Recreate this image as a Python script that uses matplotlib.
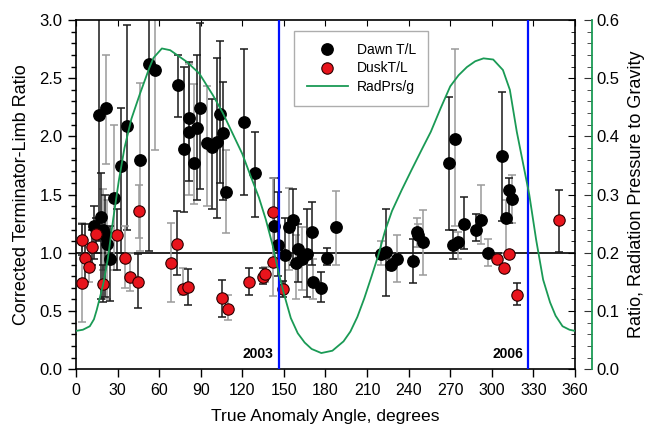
import matplotlib
matplotlib.use("Agg")
import matplotlib.pyplot as plt
import numpy as np
from matplotlib.ticker import MultipleLocator
from matplotlib.lines import Line2D

plt.rcParams["font.family"] = ["Liberation Sans", "DejaVu Sans"]

# dawn terminator/limb ratios: angle, value, lower end, upper end of error bar
dawn_angle = [12.8, 16.8, 17.8, 19.7, 20.9, 21.6, 22.1, 24.5, 27.8, 32.7,
              36.6, 46.2, 52.9, 57.2, 73.8, 78.3, 81.3, 81.8, 85.1, 87.1,
              89.5, 94.3, 97.9, 101.9, 103.9, 105.8, 108.0, 121.4, 128.9,
              142.9, 146.0, 150.8, 153.9, 156.8, 158.7, 160.4, 162.8, 166.9,
              170.5, 170.7, 176.5, 180.9, 187.4, 219.8, 223.7, 227.1, 231.4,
              242.9, 245.8, 247.0, 250.1, 269.4, 273.5, 272.2, 275.8, 280.2,
              288.4, 292.2, 297.5, 307.6, 310.2, 312.4, 314.8]
dawn_ratio = [1.23, 2.18, 1.31, 1.20, 1.15, 2.24, 1.08, 0.95, 1.47, 1.75,
              2.09, 1.80, 2.62, 2.57, 2.44, 1.89, 2.04, 2.16, 1.77, 2.07,
              2.24, 1.94, 1.91, 1.95, 2.19, 2.03, 1.52, 2.12, 1.69,
              1.23, 1.07, 0.98, 1.22, 1.28, 0.91, 1.03, 0.95, 0.99,
              1.18, 0.75, 0.70, 0.96, 1.22, 0.99, 1.01, 0.90, 0.95,
              0.93, 1.18, 1.15, 1.09, 1.77, 1.98, 1.07, 1.09, 1.25,
              1.20, 1.28, 1.00, 1.83, 1.30, 1.54, 1.46]
dawn_lo = [0.95, 1.10, 0.60, 0.85, 0.62, 1.76, 0.60, 0.59, 0.85, 1.00,
           1.20, 1.02, 1.02, 1.88, 2.17, 1.35, 1.50, 1.62, 1.42, 1.45,
           1.55, 1.40, 1.38, 1.30, 1.60, 1.45, 1.17, 1.50, 1.31,
           0.95, 0.80, 0.70, 0.85, 0.90, 0.60, 0.75, 0.68, 0.62,
           0.90, 0.60, 0.58, 0.90, 0.90, 0.90, 0.63, 0.85, 0.75,
           0.74, 1.05, 1.05, 0.81, 1.20, 1.23, 0.95, 0.95, 1.03,
           1.10, 1.08, 0.89, 1.27, 1.00, 1.26, 1.26]
dawn_hi = [1.40, 3.50, 1.69, 1.55, 1.50, 2.70, 1.45, 1.23, 2.10, 2.24,
           2.96, 2.46, 3.50, 3.50, 2.70, 2.60, 2.62, 2.64, 2.45, 2.70,
           2.97, 2.43, 2.32, 2.67, 2.82, 2.47, 1.88, 2.75, 2.04,
           1.64, 1.52, 1.30, 1.56, 1.55, 1.15, 1.25, 1.22, 1.38,
           1.44, 0.95, 0.84, 1.04, 1.53, 1.10, 1.38, 0.95, 1.15,
           1.12, 1.30, 1.25, 1.37, 2.34, 2.75, 1.20, 1.18, 1.48,
           1.33, 1.58, 1.12, 2.38, 1.45, 1.64, 1.67]

# dusk terminator/limb ratios
dusk_angle = [4.1, 4.1, 6.5, 9.6, 11.8, 14.4, 19.7, 29.4, 35.4, 39.0,
              44.5, 45.7, 68.3, 72.6, 77.0, 81.0, 105.6, 109.9, 125.0,
              135.1, 136.4, 141.9, 142.4, 149.6, 303.5, 308.8, 312.7,
              318.5, 348.7]
dusk_ratio = [1.11, 0.74, 0.96, 0.88, 1.05, 1.16, 0.73, 1.15, 0.96, 0.79,
              0.75, 1.36, 0.91, 1.08, 0.69, 0.71, 0.61, 0.52, 0.75,
              0.79, 0.82, 0.92, 1.35, 0.69, 0.95, 0.87, 0.99,
              0.64, 1.28]
dusk_lo = [0.98, 0.41, 0.75, 0.75, 0.90, 1.00, 0.58, 0.85, 0.70, 0.67,
           0.53, 1.13, 0.58, 0.81, 0.64, 0.55, 0.45, 0.42, 0.64,
           0.73, 0.75, 0.63, 1.20, 0.62, 0.95, 0.87, 0.99,
           0.55, 1.01]
dusk_hi = [1.25, 1.26, 1.25, 1.05, 1.20, 1.30, 0.90, 1.38, 1.23, 1.00,
           0.99, 1.58, 1.26, 1.36, 0.87, 0.86, 0.77, 0.64, 0.87,
           0.87, 0.88, 1.20, 1.64, 0.76, 0.95, 0.87, 0.99,
           0.74, 1.54]

# radiation pressure / gravity along the orbit
rp_angle = [0, 5, 10, 13, 15, 18, 20, 23, 27, 31, 35, 40, 46, 53, 56, 62,
            68, 74, 80, 89, 99, 106, 114, 120, 126, 132, 137, 142, 146, 150,
            155, 160, 165, 170, 177, 185, 193, 198, 203, 208, 213, 218, 223,
            228, 235, 242, 250, 256, 263, 270, 276, 282, 288, 294, 301, 308,
            313, 318, 323, 327, 332, 337, 342, 346, 351, 356, 360]
rp_value = [0.066, 0.068, 0.074, 0.086, 0.102, 0.130, 0.150, 0.190, 0.260,
            0.325, 0.380, 0.430, 0.472, 0.518, 0.535, 0.551, 0.548, 0.538,
            0.528, 0.508, 0.470, 0.440, 0.400, 0.370, 0.332, 0.295, 0.257,
            0.212, 0.168, 0.130, 0.088, 0.062, 0.046, 0.035, 0.028, 0.032,
            0.048, 0.065, 0.090, 0.122, 0.158, 0.195, 0.238, 0.272, 0.308,
            0.342, 0.380, 0.408, 0.448, 0.486, 0.505, 0.519, 0.529, 0.534,
            0.532, 0.514, 0.480, 0.408, 0.348, 0.300, 0.222, 0.154, 0.115,
            0.092, 0.074, 0.068, 0.066]

# perihelion passages marked on the plot
years = ["2003", "2006"]
year_angle = [146.2, 326.3]

# which error bars are drawn light grey
dawn_faint = [0, 0, 0, 1, 0, 1, 1, 0, 1, 0, 0, 1, 0, 1, 0, 0, 1, 0, 1, 0,
              0, 1, 0, 0, 0, 0, 1, 0, 0, 0, 0, 0, 1, 0, 1, 0, 1, 0, 0, 1,
              0, 0, 1, 1, 0, 0, 1, 0, 1, 1, 1, 0, 1, 0, 1, 0, 0, 1, 1, 0,
              1, 0, 1]
dusk_faint = [0, 1, 0, 1, 0, 0, 0, 0, 1, 1, 0, 1, 1, 0, 1, 0, 0, 1, 0, 0,
              1, 1, 1, 0, 0, 0, 0, 0, 0]

GREEN = "#1a9a55"
DARK = "#1a1a1a"
LIGHT = "#9a9a9a"


def draw_errors(ax, x, y, lo, hi, faint):
    x = np.asarray(x)
    y = np.asarray(y)
    lo = np.asarray(lo)
    hi = np.asarray(hi)
    faint = np.asarray(faint, dtype=bool)
    for sel, col in ((faint, LIGHT), (~faint, DARK)):
        ax.errorbar(x[sel], y[sel], yerr=[y[sel] - lo[sel], hi[sel] - y[sel]],
                    fmt="none", ecolor=col, elinewidth=1.1, capsize=3.2,
                    capthick=1.1, zorder=2)


fig = plt.figure(figsize=(6.49, 4.33), dpi=100)
ax = fig.add_axes([0.117, 0.147, 0.769, 0.807])

draw_errors(ax, dawn_angle, dawn_ratio, dawn_lo, dawn_hi, dawn_faint)
draw_errors(ax, dusk_angle, dusk_ratio, dusk_lo, dusk_hi, dusk_faint)
ax.plot(dawn_angle, dawn_ratio, "o", ms=8.2, mfc="black", mec="black",
        zorder=3)
ax.plot(dusk_angle, dusk_ratio, "o", ms=8.2, mfc="#e8141c", mec="#2a0000",
        mew=0.8, zorder=4)

ax.axhline(1.0, color="black", lw=1.2, zorder=1)
for yr, a in zip(years, year_angle):
    ax.axvline(a, color="#0010ff", lw=1.6, zorder=5)
    ax.text(a - 3.8, 0.13, yr, ha="right", va="center", fontsize=10,
            fontweight="bold")

ax.set_xlim(0, 360)
ax.set_ylim(0, 3.0)
ax.set_xticks(np.arange(0, 361, 30))
ax.yaxis.set_major_locator(MultipleLocator(0.5))
ax.yaxis.set_minor_locator(MultipleLocator(0.1))
ax.yaxis.set_major_formatter(plt.FormatStrFormatter("%.1f"))
ax.tick_params(axis="both", which="major", direction="out", length=6,
               width=1, labelsize=12)
ax.tick_params(axis="y", which="minor", direction="out", length=3.5, width=1)
ax.tick_params(axis="x", labelsize=11.5)
ax.tick_params(right=False, top=False)
for s in ax.spines.values():
    s.set_linewidth(1.2)
ax.set_xlabel("True Anomaly Angle, degrees", fontsize=12.6, labelpad=8)
ax.set_ylabel("Corrected Terminator-Limb Ratio", fontsize=13, labelpad=7)

# inward ticks mirrored on the top and right frame
top = ax.secondary_xaxis("top")
top.set_xticks(np.arange(0, 361, 30))
top.tick_params(direction="in", length=4, labeltop=False)
top.spines["top"].set_visible(False)
rframe = ax.secondary_yaxis("right")
rframe.yaxis.set_major_locator(MultipleLocator(0.5))
rframe.yaxis.set_minor_locator(MultipleLocator(0.1))
rframe.tick_params(which="major", direction="in", length=5, labelright=False)
rframe.tick_params(which="minor", direction="in", length=3)
rframe.spines["right"].set_visible(False)

# radiation pressure on its own offset axis
ax2 = ax.twinx()
ax2.plot(rp_angle, rp_value, color=GREEN, lw=1.3, zorder=1)
ax2.set_ylim(0, 0.6)
ax2.yaxis.set_major_locator(MultipleLocator(0.1))
ax2.yaxis.set_minor_locator(MultipleLocator(0.02))
ax2.yaxis.set_major_formatter(plt.FormatStrFormatter("%.1f"))
for name in ("left", "top", "bottom"):
    ax2.spines[name].set_visible(False)
ax2.spines["right"].set_position(("outward", 12))
ax2.spines["right"].set_color(GREEN)
ax2.spines["right"].set_linewidth(1.3)
ax2.tick_params(axis="y", which="major", direction="in", length=6,
                color="#333333", labelsize=12)
ax2.tick_params(axis="y", which="minor", direction="in", length=3.5,
                color="#333333")
ax2.set_ylabel("Ratio, Radiation Pressure to Gravity", fontsize=13,
               labelpad=6)

handles = [
    Line2D([], [], ls="none", marker="o", ms=8.2, mfc="black", mec="black"),
    Line2D([], [], ls="none", marker="o", ms=8.2, mfc="#e8141c",
           mec="#2a0000", mew=0.8),
    Line2D([], [], color=GREEN, lw=1.3),
]
leg = ax.legend(handles, ["Dawn T/L", "DuskT/L", "RadPrs/g"],
                loc="upper left", bbox_to_anchor=(0.437, 0.969),
                borderaxespad=0, fontsize=10, frameon=True, fancybox=False,
                edgecolor="#999999", borderpad=0.9, handlelength=3.0,
                handletextpad=0.6, labelspacing=0.3)
leg.get_frame().set_linewidth(1.0)
leg.set_zorder(10)

fig.savefig("out.png", dpi=100)
